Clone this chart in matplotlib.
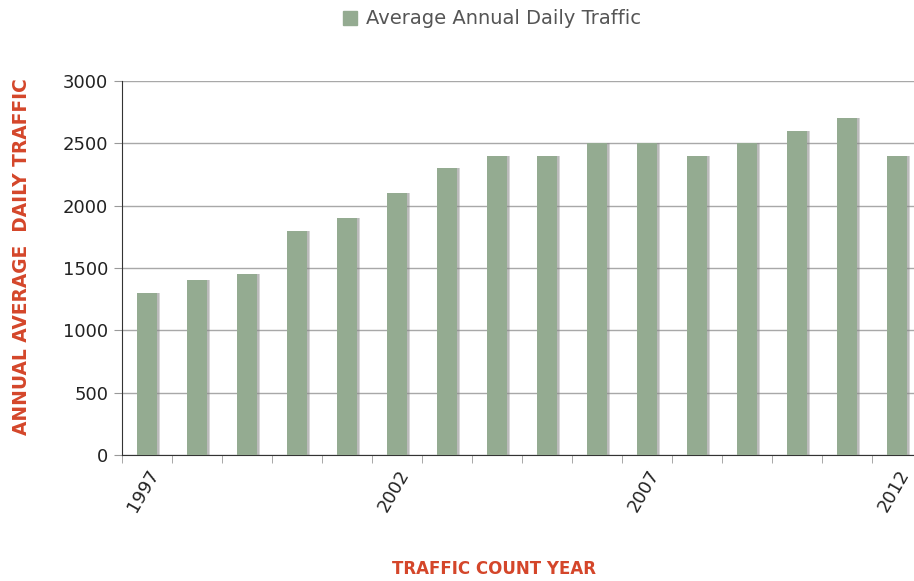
import numpy as np
import matplotlib.pyplot as plt
from matplotlib.patches import Rectangle

years = ['1997', '1998', '1999', '2000', '2001', '2002', '2003', '2004',
         '2005', '2006', '2007', '2008', '2009', '2010', '2011', '2012']
aadt = [1300, 1400, 1450, 1800, 1900, 2100, 2300, 2400,
        2400, 2500, 2500, 2400, 2500, 2600, 2700, 2400]
shown_labels = ['1997', '2002', '2007', '2012']

bar_color = '#94ab91'
red = '#d4462a'

plt.rcParams['font.family'] = ['DejaVu Sans']

fig = plt.figure(figsize=(9.14, 5.81), dpi=100)
# axes runs past the right edge of the picture, like the source
ax = fig.add_axes([122/914, 1 - 455/581, 800/914, 374/581])

x = np.arange(len(years))
# soft shadow to the right of each bar
ax.bar(x + 0.05, aadt, width=0.4, color='#8a8a8a', alpha=0.35, zorder=2)
ax.bar(x + 0.03, aadt, width=0.4, color='#8a8a8a', alpha=0.35, zorder=2)
ax.bar(x, aadt, width=0.4, color=bar_color, zorder=3)

ax.set_xlim(-0.5, len(years) - 0.5)
ax.set_ylim(0, 3000)
ax.set_yticks(np.arange(0, 3001, 500))
ax.yaxis.grid(True, color='#a8a8a8', linewidth=1, zorder=0)
ax.set_axisbelow(True)

# boundaries get tick marks, labels sit on the centres
ax.set_xticks(np.arange(-0.5, len(years), 1), minor=True)
ax.set_xticks([years.index(y) for y in shown_labels])
ax.set_xticklabels(shown_labels, rotation=60, ha='right', va='top',
                   rotation_mode='anchor', fontsize=13, color='#222222')
ax.tick_params(axis='x', which='major', length=0, pad=8)
ax.tick_params(axis='x', which='minor', length=6, color='#999999')
ax.tick_params(axis='y', length=6, color='#999999', labelsize=13,
               labelcolor='#222222', pad=4)

for s in ['top', 'right']:
    ax.spines[s].set_visible(False)
ax.spines['left'].set_color('#333333')
ax.spines['bottom'].set_color('#333333')

fig.text(22/914, 1 - 257/581, 'ANNUAL AVERAGE  DAILY TRAFFIC', rotation=90,
         ha='center', va='center', color=red, fontsize=13.4, fontweight='bold')
fig.text(494/914, 1 - 569/581, 'TRAFFIC COUNT YEAR', ha='center',
         va='center', color=red, fontsize=12, fontweight='bold')

# legend at the top
fig.patches.append(Rectangle((343/914, 1 - 25/581), 14/914, 14/581,
                             transform=fig.transFigure, color=bar_color))
fig.text(366/914, 1 - 18/581, 'Average Annual Daily Traffic', ha='left',
         va='center', color='#555555', fontsize=14)

fig.savefig('out.png', dpi=100)
